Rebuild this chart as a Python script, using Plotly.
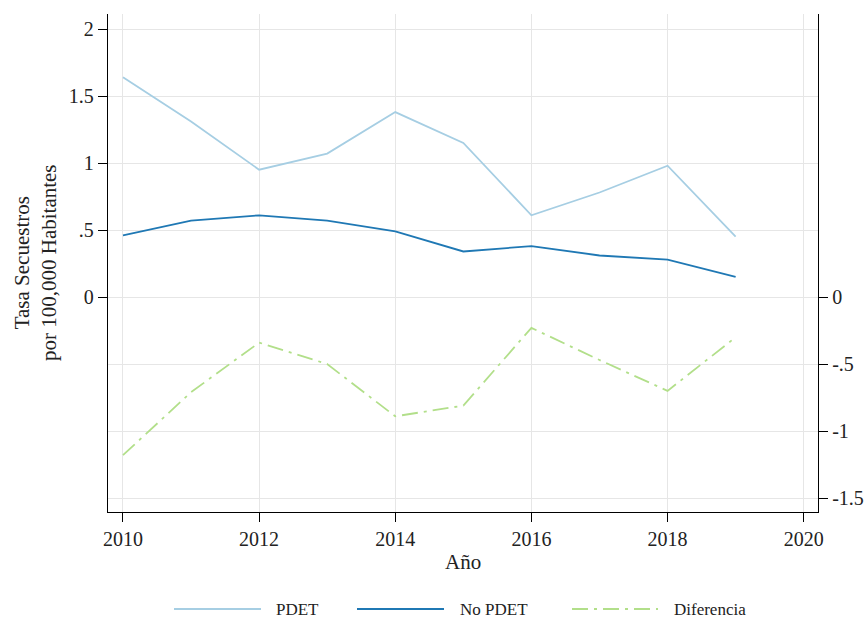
import plotly.graph_objects as go

years = [2010, 2011, 2012, 2013, 2014, 2015, 2016, 2017, 2018, 2019]
pdet = [1.64, 1.31, 0.95, 1.07, 1.38, 1.15, 0.61, 0.78, 0.98, 0.45]
no_pdet = [0.46, 0.57, 0.61, 0.57, 0.49, 0.34, 0.38, 0.31, 0.28, 0.15]
diferencia = [-1.18, -0.71, -0.34, -0.50, -0.89, -0.81, -0.23, -0.47, -0.70, -0.30]

left_ticks = [0, 0.5, 1, 1.5, 2]
left_labels = ["0", ".5", "1", "1.5", "2"]
right_ticks = [-1.5, -1, -0.5, 0]
right_labels = ["-1.5", "-1", "-.5", "0"]
x_ticks = [2010, 2012, 2014, 2016, 2018, 2020]

c_pdet = "#a6cee3"
c_no = "#1f78b4"
c_dif = "#b2df8a"
DASHDOT = "16px,6px,3px,6px"
FONT = "Liberation Serif"
TXT = "#222"

W, H = 868, 619
L, R, T, B = 108, 50, 14, 107
PW, PH = W - L - R, H - T - B


def px(x):
    return (x - L) / PW


def py(y):
    return (H - B - y) / PH


fig = go.Figure()
fig.add_trace(go.Scatter(x=years, y=pdet, mode="lines", name="PDET",
                         line=dict(color=c_pdet, width=1.8), showlegend=False))
fig.add_trace(go.Scatter(x=years, y=no_pdet, mode="lines", name="No PDET",
                         line=dict(color=c_no, width=1.8), showlegend=False))
fig.add_trace(go.Scatter(x=years, y=diferencia, mode="lines", name="Diferencia",
                         line=dict(color=c_dif, width=1.8, dash=DASHDOT),
                         yaxis="y2", showlegend=False))

yr = [-1.604, 2.112]
axis_common = dict(showgrid=True, gridcolor="#e6e6e6", gridwidth=1,
                   showline=True, linecolor="black", linewidth=1.3,
                   ticks="outside", ticklen=9, tickcolor="black", tickwidth=1.3,
                   zeroline=False, automargin=False,
                   tickfont=dict(family=FONT, size=20, color=TXT))
fig.update_layout(
    width=W, height=H,
    margin=dict(l=L, r=R, t=T, b=B),
    paper_bgcolor="white", plot_bgcolor="white",
    font=dict(family=FONT, size=20, color=TXT),
    xaxis=dict(range=[2009.78, 2020.21], tickvals=x_ticks, **axis_common),
    yaxis=dict(range=yr, tickvals=left_ticks, ticktext=left_labels, **axis_common),
    yaxis2=dict(range=yr, overlaying="y", side="right",
                tickvals=right_ticks, ticktext=right_labels, **axis_common),
)

# Axis titles
fig.add_annotation(text="Año", xref="paper", yref="paper",
                   x=px(463), y=py(562), xanchor="center", yanchor="middle",
                   showarrow=False, font=dict(family=FONT, size=21, color=TXT))
fig.add_annotation(text="Tasa Secuestros<br>por 100,000 Habitantes",
                   xref="paper", yref="paper", x=px(35), y=py(263),
                   xanchor="center", yanchor="middle", textangle=-90,
                   showarrow=False, font=dict(family=FONT, size=21, color=TXT))

# Custom legend (Stata-style long line samples)
legend_items = [
    ("PDET", c_pdet, "solid", 174, 261, 274),
    ("No PDET", c_no, "solid", 357, 444, 458),
    ("Diferencia", c_dif, DASHDOT, 572, 658, 672),
]
ly = 609
for name, col, dash, x0, x1, tx in legend_items:
    fig.add_shape(type="line", xref="paper", yref="paper",
                  x0=px(x0), x1=px(x1), y0=py(ly), y1=py(ly),
                  line=dict(color=col, width=1.8, dash=dash))
    fig.add_annotation(text=name, xref="paper", yref="paper",
                       x=px(tx), y=py(ly), xanchor="left", yanchor="middle",
                       showarrow=False,
                       font=dict(family=FONT, size=17, color=TXT))

fig.write_html("out.html", config={"displayModeBar": False},
               post_script="document.body.style.margin='0';document.body.style.overflow='hidden';")
